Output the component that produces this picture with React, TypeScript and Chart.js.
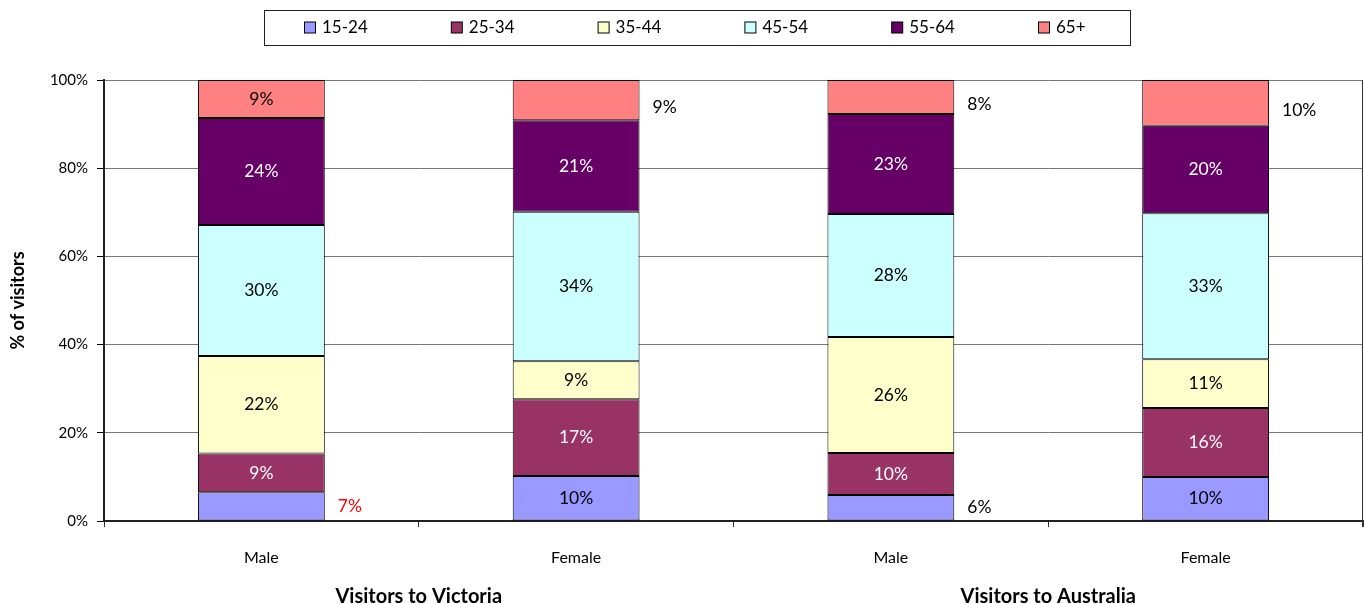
import { useEffect, useRef } from 'react';
import { Chart, registerables } from 'chart.js';

Chart.register(...registerables);

const categories = ['Male', 'Female', 'Male', 'Female'];
const groups = ['Visitors to Victoria', 'Visitors to Australia'];
const ageBands = ['15-24', '25-34', '35-44', '45-54', '55-64', '65+'];
const age15to24 = [6.5, 10.2, 5.9, 10.0];
const age25to34 = [8.8, 17.4, 9.5, 15.6];
const age35to44 = [22.1, 8.6, 26.3, 11.1];
const age45to54 = [29.7, 33.9, 27.9, 33.1];
const age55to64 = [24.3, 20.8, 22.7, 19.8];
const age65plus = [8.6, 9.1, 7.7, 10.4];
const seriesValues = [age15to24, age25to34, age35to44, age45to54, age55to64, age65plus];
const seriesColors = ['#9999FF', '#993366', '#FFFFCC', '#CCFFFF', '#660066', '#FF8080'];
const labelInsideColors = ['#000', '#fff', '#000', '#000', '#fff', '#000'];
// labels drawn to the right of the bar: [series, category, colour]
const outsideLabels: [number, number, string][] = [
  [0, 0, '#FF0000'],
  [5, 1, '#000'],
  [0, 2, '#000'],
  [5, 2, '#000'],
  [5, 3, '#000'],
];
const yMax = 100;
const yStep = 20;

const FONT = 'Lato, "Open Sans", sans-serif';

const legendPlugin = {
  id: 'boxLegend',
  afterDraw(chart: any) {
    const ctx = chart.ctx;
    ctx.save();
    const bx = 264.5, by = 10.5, bw = 866, bh = 35;
    ctx.fillStyle = '#fff';
    ctx.fillRect(bx, by, bw, bh);
    ctx.strokeStyle = '#222';
    ctx.lineWidth = 1;
    ctx.strokeRect(bx, by, bw, bh);
    const cy = by + bh / 2;
    chart.data.datasets.forEach((ds: any, i: number) => {
      const x0 = 304 + i * 146.8;
      ctx.fillStyle = ds.backgroundColor;
      ctx.fillRect(x0 + 0.5, cy - 6, 11, 11);
      ctx.strokeStyle = '#000';
      ctx.strokeRect(x0 + 0.5, cy - 6, 11, 11);
      ctx.fillStyle = '#000';
      ctx.font = `17px ${FONT}`;
      ctx.textAlign = 'left';
      ctx.textBaseline = 'middle';
      ctx.fillText(ds.label, x0 + 18, cy);
    });
    ctx.restore();
  },
};

const framePlugin = {
  id: 'frameRight',
  afterDraw(chart: any) {
    const { ctx, chartArea } = chart;
    ctx.save();
    ctx.strokeStyle = '#333';
    ctx.lineWidth = 1;
    ctx.beginPath();
    ctx.moveTo(chartArea.right - 0.5, chartArea.top);
    ctx.lineTo(chartArea.right - 0.5, chartArea.bottom + 6);
    ctx.stroke();
    ctx.restore();
  },
};

const dataLabelPlugin = {
  id: 'segLabels',
  afterDatasetsDraw(chart: any) {
    const ctx = chart.ctx;
    ctx.save();
    ctx.font = `17.5px ${FONT}`;
    ctx.textBaseline = 'middle';
    chart.data.datasets.forEach((ds: any, d: number) => {
      const meta = chart.getDatasetMeta(d);
      meta.data.forEach((el: any, i: number) => {
        const txt = Math.round(ds.data[i]) + '%';
        const cy = (el.y + el.base) / 2;
        const out = outsideLabels.find((o) => o[0] === d && o[1] === i);
        if (out) {
          ctx.fillStyle = out[2];
          ctx.textAlign = 'left';
          ctx.fillText(txt, el.x + el.width / 2 + 13, cy + (d === 5 ? 7 : 0));
        } else {
          ctx.fillStyle = labelInsideColors[d];
          ctx.textAlign = 'center';
          ctx.fillText(txt, el.x, cy);
        }
      });
    });
    ctx.restore();
  },
};

export default function App() {
  const ref = useRef<HTMLCanvasElement | null>(null);
  useEffect(() => {
    if (!ref.current) return;
    const chart = new Chart(ref.current, {
      type: 'bar',
      data: {
        labels: categories,
        datasets: ageBands.map((name, i) => ({
          label: name,
          data: seriesValues[i],
          backgroundColor: seriesColors[i],
          borderColor: '#000',
          borderWidth: 1,
          borderSkipped: false,
          categoryPercentage: 1,
          barPercentage: 0.403,
          xAxisID: 'x',
          yAxisID: 'y',
        })),
      },
      options: {
        animation: false,
        responsive: true,
        maintainAspectRatio: false,
        layout: { padding: { top: 80, right: 1, left: 0, bottom: 0 } },
        plugins: {
          legend: { display: false },
          tooltip: { enabled: false },
        },
        scales: {
          x: {
            type: 'category',
            stacked: true,
            position: 'bottom',
            weight: 0,
            offset: true,
            grid: {
              display: true,
              offset: true,
              drawOnChartArea: false,
              drawTicks: true,
              tickLength: 6,
              color: '#333',
            },
            border: { display: true, color: '#222', width: 2 },
            ticks: { color: '#000', font: { family: FONT, size: 16 }, padding: 21 },
            afterFit: (s: any) => { s.height = 55; },
          },
          x2: {
            type: 'category',
            labels: groups,
            position: 'bottom',
            weight: 1,
            offset: true,
            grid: { display: false },
            border: { display: false },
            ticks: { color: '#000', font: { family: FONT, size: 20, weight: 'bold' }, padding: 1 },
            afterFit: (s: any) => { s.height = 28; },
          },
          y: {
            stacked: true,
            min: 0,
            max: yMax,
            ticks: {
              stepSize: yStep,
              color: '#000',
              font: { family: FONT, size: 15 },
              padding: 9,
              callback: (v: any) => v + '%',
            },
            grid: { color: '#777', tickColor: '#000', tickLength: 7, drawTicks: true },
            border: { display: true, color: '#222', width: 2 },
            title: {
              display: true,
              text: '% of visitors',
              color: '#000',
              font: { family: FONT, size: 18, weight: 'bold' },
              padding: { top: 7, bottom: 0 },
            },
            afterFit: (s: any) => { s.width = 104; },
          },
        },
      },
      plugins: [dataLabelPlugin, legendPlugin, framePlugin],
    } as any);
    return () => chart.destroy();
  }, []);
  return (
    <div style={{ position: 'fixed', left: 0, top: 0, width: 1364, height: 604, background: '#fff' }}>
      <canvas ref={ref} />
    </div>
  );
}
